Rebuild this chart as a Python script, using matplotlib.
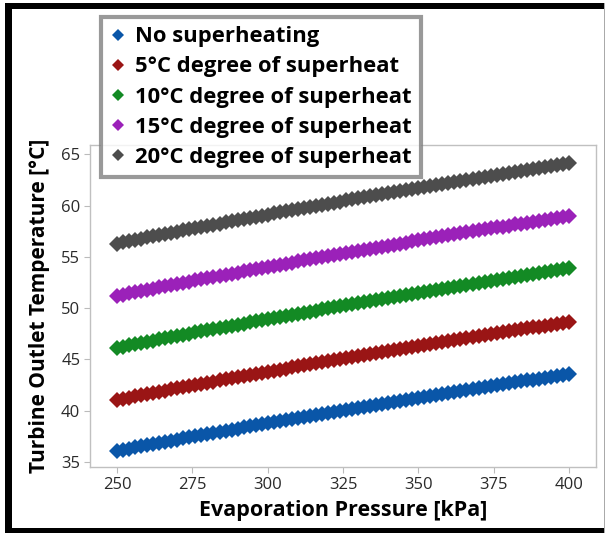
import matplotlib
matplotlib.use("Agg")
import matplotlib.pyplot as plt
from matplotlib.patches import Rectangle

plt.rcParams['font.family'] = ['Open Sans', 'DejaVu Sans']

################################ DATA #########################################
pressure = [250, 252, 254, 256, 258, 260, 262, 264, 266, 268,
            270, 272, 274, 276, 278, 280, 282, 284, 286, 288,
            290, 292, 294, 296, 298, 300, 302, 304, 306, 308,
            310, 312, 314, 316, 318, 320, 322, 324, 326, 328,
            330, 332, 334, 336, 338, 340, 342, 344, 346, 348,
            350, 352, 354, 356, 358, 360, 362, 364, 366, 368,
            370, 372, 374, 376, 378, 380, 382, 384, 386, 388,
            390, 392, 394, 396, 398, 400]

no_superheat = [36.07, 36.18, 36.29, 36.41, 36.52, 36.63, 36.74, 36.85, 36.96, 37.07,
                37.18, 37.29, 37.40, 37.51, 37.62, 37.73, 37.83, 37.94, 38.04, 38.15,
                38.25, 38.36, 38.46, 38.57, 38.67, 38.78, 38.88, 38.98, 39.09, 39.19,
                39.29, 39.39, 39.49, 39.59, 39.69, 39.79, 39.89, 39.99, 40.09, 40.19,
                40.29, 40.39, 40.48, 40.58, 40.67, 40.77, 40.87, 40.97, 41.06, 41.16,
                41.26, 41.35, 41.45, 41.54, 41.64, 41.73, 41.82, 41.92, 42.01, 42.11,
                42.20, 42.29, 42.38, 42.48, 42.57, 42.66, 42.75, 42.84, 42.94, 43.03,
                43.12, 43.21, 43.30, 43.39, 43.48, 43.57]

superheat_5 = [41.04, 41.15, 41.27, 41.38, 41.50, 41.61, 41.72, 41.83, 41.95, 42.06,
               42.17, 42.28, 42.39, 42.50, 42.61, 42.72, 42.83, 42.94, 43.04, 43.15,
               43.26, 43.37, 43.47, 43.58, 43.68, 43.79, 43.89, 44.00, 44.10, 44.21,
               44.31, 44.41, 44.51, 44.62, 44.72, 44.82, 44.92, 45.02, 45.12, 45.22,
               45.32, 45.42, 45.52, 45.62, 45.72, 45.82, 45.92, 46.02, 46.11, 46.21,
               46.31, 46.41, 46.50, 46.60, 46.69, 46.79, 46.89, 46.98, 47.08, 47.17,
               47.27, 47.36, 47.46, 47.55, 47.65, 47.74, 47.83, 47.92, 48.02, 48.11,
               48.20, 48.29, 48.38, 48.48, 48.57, 48.66]

superheat_10 = [46.13, 46.25, 46.36, 46.48, 46.59, 46.71, 46.82, 46.94, 47.05, 47.17,
                47.28, 47.39, 47.50, 47.62, 47.73, 47.84, 47.95, 48.06, 48.16, 48.27,
                48.38, 48.49, 48.60, 48.70, 48.81, 48.92, 49.03, 49.13, 49.24, 49.34,
                49.45, 49.55, 49.65, 49.76, 49.86, 49.96, 50.06, 50.16, 50.27, 50.37,
                50.47, 50.57, 50.67, 50.78, 50.88, 50.98, 51.08, 51.18, 51.27, 51.37,
                51.47, 51.57, 51.67, 51.76, 51.86, 51.96, 52.06, 52.16, 52.25, 52.35,
                52.45, 52.54, 52.64, 52.73, 52.83, 52.92, 53.01, 53.11, 53.20, 53.30,
                53.39, 53.48, 53.58, 53.67, 53.77, 53.86]

superheat_15 = [51.19, 51.31, 51.43, 51.54, 51.66, 51.78, 51.89, 52.01, 52.12, 52.24,
                52.35, 52.46, 52.57, 52.69, 52.80, 52.91, 53.02, 53.13, 53.24, 53.35,
                53.46, 53.57, 53.68, 53.79, 53.90, 54.01, 54.12, 54.22, 54.33, 54.43,
                54.54, 54.64, 54.75, 54.85, 54.96, 55.06, 55.16, 55.27, 55.37, 55.48,
                55.58, 55.68, 55.78, 55.89, 55.99, 56.09, 56.19, 56.29, 56.39, 56.49,
                56.59, 56.69, 56.79, 56.88, 56.98, 57.08, 57.18, 57.28, 57.37, 57.47,
                57.57, 57.67, 57.76, 57.86, 57.95, 58.05, 58.15, 58.24, 58.34, 58.43,
                58.53, 58.62, 58.72, 58.81, 58.91, 59.00]

superheat_20 = [56.29, 56.41, 56.53, 56.64, 56.76, 56.88, 57.00, 57.11, 57.23, 57.34,
                57.46, 57.57, 57.68, 57.80, 57.91, 58.02, 58.13, 58.24, 58.36, 58.47,
                58.58, 58.69, 58.80, 58.90, 59.01, 59.12, 59.23, 59.34, 59.44, 59.55,
                59.66, 59.76, 59.87, 59.97, 60.08, 60.18, 60.28, 60.39, 60.49, 60.60,
                60.70, 60.80, 60.90, 61.01, 61.11, 61.21, 61.31, 61.41, 61.52, 61.62,
                61.72, 61.82, 61.92, 62.01, 62.11, 62.21, 62.31, 62.41, 62.50, 62.60,
                62.70, 62.80, 62.90, 62.99, 63.09, 63.19, 63.29, 63.38, 63.48, 63.57,
                63.67, 63.76, 63.86, 63.95, 64.05, 64.14]

labels = ["No superheating",
          "5\u00b0C degree of superheat",
          "10\u00b0C degree of superheat",
          "15\u00b0C degree of superheat",
          "20\u00b0C degree of superheat"]
colors = ["#0a56a8", "#9a1515", "#138a24", "#9b21b9", "#4d4d4d"]

x_ticks = [250, 275, 300, 325, 350, 375, 400]
y_ticks = [35, 40, 45, 50, 55, 60, 65]

################################ PLOT #########################################
W, H = 606, 533
fig = plt.figure(figsize=(W / 100, H / 100), dpi=100)
ax = fig.add_axes([90 / W, 1 - 467 / H, (596 - 90) / W, (467 - 145) / H])

series = [no_superheat, superheat_5, superheat_10, superheat_15, superheat_20]
for ys, lab, col in zip(series, labels, colors):
    ax.plot(pressure, ys, linestyle='none', marker='D', markersize=8,
            markeredgewidth=0, color=col, label=lab)

ax.set_xlim(241, 409)
ax.set_ylim(34.5, 65.9)
ax.set_xticks(x_ticks)
ax.set_yticks(y_ticks)
ax.tick_params(labelsize=12, colors='#bbbbbb', labelcolor='#2a2a2a', length=4, pad=3)
for sp in ax.spines.values():
    sp.set_color('#c0c0c0')
    sp.set_linewidth(1)

ax.set_xlabel("Evaporation Pressure [kPa]", fontsize=15.5, fontweight='bold', labelpad=5)
ax.set_ylabel("Turbine Outlet Temperature [\u00b0C]", fontsize=15, fontweight='bold', labelpad=8)

leg = fig.legend(loc='upper left', bbox_to_anchor=(101 / W, 1 - 17 / H),
                 prop={'weight': 'bold', 'size': 15.8},
                 frameon=True, fancybox=False, borderaxespad=0,
                 handlelength=0.7, handletextpad=0.45, labelspacing=0.42,
                 borderpad=0.42, markerscale=0.8)
leg.get_frame().set_edgecolor('#808080')
leg.get_frame().set_linewidth(3)

# picture frame
for (x0, y0, w, h, c) in [(5, 3, 7, 530, 'black'), (5, 3, 599, 6, 'black'),
                          (5, 528, 599, 5, 'black'), (604, 3, 1, 530, '#aaaaaa')]:
    fig.add_artist(Rectangle((x0 / W, 1 - (y0 + h) / H), w / W, h / H,
                             transform=fig.transFigure, color=c, lw=0))

plt.savefig("out.png", dpi=100)
plt.close()
